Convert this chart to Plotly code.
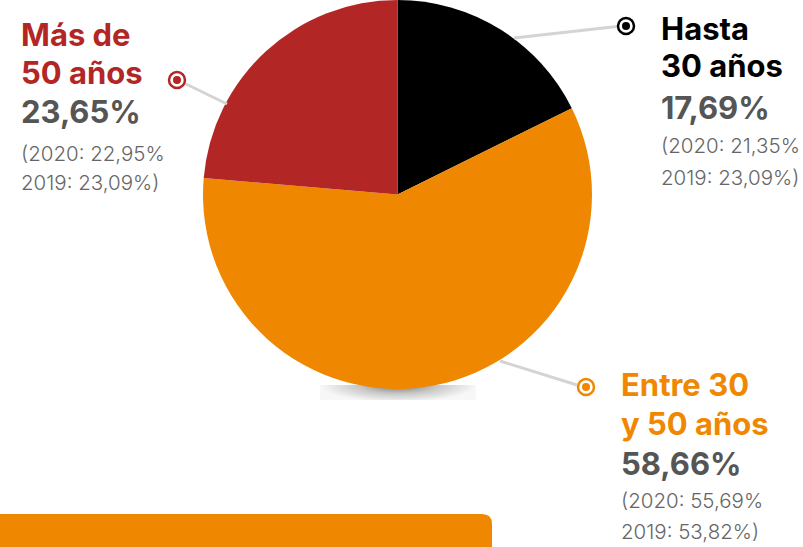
import base64
import plotly.graph_objects as go

W, H = 803, 547

# ---- data ----
labels = ["Hasta 30 años", "Entre 30 y 50 años", "Más de 50 años"]
label_lines = [["Hasta", "30 años"], ["Entre 30", "y 50 años"], ["Más de", "50 años"]]
values = [17.69, 58.66, 23.65]
pct_text = ["17,69%", "58,66%", "23,65%"]
prev_2020 = ["21,35%", "55,69%", "22,95%"]
prev_2019 = ["23,09%", "53,82%", "23,09%"]
colors = ["#000000", "#EF8800", "#B22725"]

# ---- layout helpers (pixel -> paper) ----
def px(x):
    return x / W

def py(y):
    return 1 - y / H

FONT = "Inter"
PCT_GRAY = "#555555"
SUB_GRAY = "#666666"
LINE_GRAY = "#d4d4d4"

fig = go.Figure()
fig.add_trace(go.Pie(
    labels=labels,
    values=values,
    marker=dict(colors=colors, line=dict(width=0)),
    sort=False,
    direction="clockwise",
    rotation=0,
    textinfo="none",
    hoverinfo="skip",
    showlegend=False,
    domain=dict(x=[px(203), px(592)], y=[py(389), py(0)]),
))

# text block positions (left x, centers of the five lines)
blocks = [
    dict(x=659, ys=[28, 66, 107, 146, 177]),   # Hasta 30
    dict(x=619, ys=[384, 423, 463, 500, 531]), # Entre 30 y 50
    dict(x=19, ys=[34, 73, 111, 153, 183]),    # Más de 50
]

annotations = []
for i, b in enumerate(blocks):
    texts = [label_lines[i][0], label_lines[i][1], pct_text[i],
             "(2020: " + prev_2020[i], "2019: " + prev_2019[i] + ")"]
    fonts = [
        dict(family=FONT, size=31, color=colors[i], weight=700),
        dict(family=FONT, size=31, color=colors[i], weight=700),
        dict(family=FONT, size=31, color=PCT_GRAY, weight=700),
        dict(family=FONT, size=20.5, color=SUB_GRAY, weight=300),
        dict(family=FONT, size=20.5, color=SUB_GRAY, weight=300),
    ]
    for t, f, yc in zip(texts, fonts, b["ys"]):
        annotations.append(dict(
            x=px(b["x"]), y=py(yc), xref="paper", yref="paper",
            text=t, showarrow=False, xanchor="left", yanchor="middle",
            font=f, align="left",
        ))

shapes = []
# leader lines and ring markers
leaders = [
    ((514, 38), (617, 26.5), (626, 26)),    # black
    ((500, 361), (577, 385), (586, 387)),   # orange
    ((227, 104), (186, 84), (177, 80)),     # red
]
for (p0, p1, c), col in zip(leaders, colors):
    shapes.append(dict(type="line", xref="paper", yref="paper",
                       x0=px(p0[0]), y0=py(p0[1]), x1=px(p1[0]), y1=py(p1[1]),
                       line=dict(color=LINE_GRAY, width=3), layer="above"))
    r_out, r_in = 8, 4
    shapes.append(dict(type="circle", xref="paper", yref="paper",
                       x0=px(c[0] - r_out), x1=px(c[0] + r_out),
                       y0=py(c[1] + r_out), y1=py(c[1] - r_out),
                       line=dict(color=col, width=2.5), fillcolor="white", layer="above"))
    shapes.append(dict(type="circle", xref="paper", yref="paper",
                       x0=px(c[0] - r_in), x1=px(c[0] + r_in),
                       y0=py(c[1] + r_in), y1=py(c[1] - r_in),
                       line=dict(width=0), fillcolor=col, layer="above"))

# orange bar at bottom with rounded top-right corner
bar_path = (f"M {px(0)},{py(514)} L {px(482)},{py(514)} "
            f"Q {px(492)},{py(514)} {px(492)},{py(524)} "
            f"L {px(492)},{py(547)} L {px(0)},{py(547)} Z")
shapes.append(dict(type="path", xref="paper", yref="paper", path=bar_path,
                   fillcolor="#EF8800", line=dict(width=0), layer="below"))

# soft shadow under the pie
svg = ('<svg xmlns="http://www.w3.org/2000/svg" width="156" height="15" '
       'preserveAspectRatio="none" viewBox="0 0 156 15">'
       '<defs><radialGradient id="g" gradientUnits="userSpaceOnUse" cx="78" cy="0" r="78" '
       'gradientTransform="translate(78 0) scale(1 0.22) translate(-78 0)">'
       '<stop offset="0%" stop-color="#000" stop-opacity="0.55"/>'
       '<stop offset="50%" stop-color="#000" stop-opacity="0.22"/>'
       '<stop offset="100%" stop-color="#000" stop-opacity="0.03"/>'
       '</radialGradient></defs>'
       '<rect width="156" height="15" fill="url(#g)"/></svg>')
src = "data:image/svg+xml;base64," + base64.b64encode(svg.encode()).decode()

fig.update_layout(
    width=W, height=H,
    margin=dict(l=0, r=0, t=0, b=0),
    paper_bgcolor="white", plot_bgcolor="white",
    annotations=annotations,
    shapes=shapes,
    images=[dict(source=src, xref="paper", yref="paper",
                 x=px(320), y=py(385), sizex=156 / W, sizey=15 / H,
                 sizing="stretch", xanchor="left", yanchor="top", layer="below")],
)

fig.write_html("out.html",
               config={"displayModeBar": False},
               post_script="document.body.style.margin='0';document.body.style.padding='0';")
